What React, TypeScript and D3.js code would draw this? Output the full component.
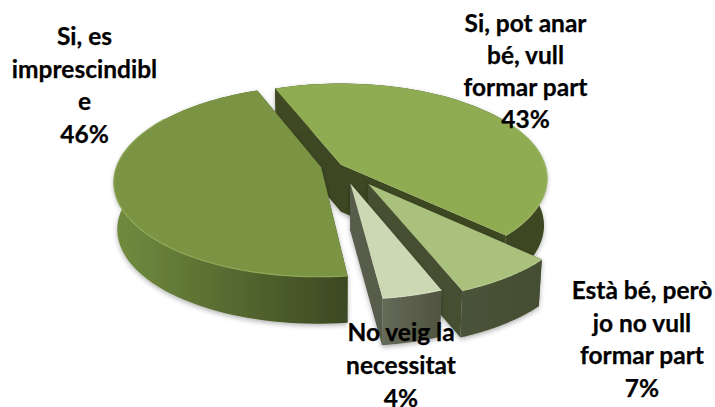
import React from "react";
import * as d3 from "d3";

const categories = ["Si, pot anar bé, vull formar part", "Està bé, però jo no vull formar part", "No veig la necessitat", "Si, es imprescindible"];
const values = [43, 7, 4, 46];
const explodes = [0.006, 0.24, 0.2, 0.095];
const labelLines = [
  ["Si, pot anar", "bé, vull", "formar part", "43%"],
  ["Està bé, però", "jo no vull", "formar part", "7%"],
  ["No veig la", "necessitat", "4%"],
  ["Si, es", "imprescindibl", "e", "46%"],
];
const labelX = [525.5, 642, 401, 84.5];
const labelY = [32, 299, 341, 45];
const labelStep = [32, 32.7, 33, 32.7];
const topColors = ["#8fac53", "#a9c17c", "#cbd8b3", "#7b9444"];
const wallFrom = ["#3f4a22", "#49523a", "#646a58", "#718c3f"];
const wallTo = ["#3c4620", "#454e30", "#50533f", "#3c4822"];
const innerColors = ["#3d4721", "#474f32", "#585c4c", "#3f4a24"];
const rimColors = ["#9ab565", "#b4c98c", "#d6e0c2", "#8ea857"];

const W = 715, H = 407;
const X0 = 340, Y0 = 165, B = 204, A = 93, K = 0.145, DEPTH = 47;
const START = (-21.5 * Math.PI) / 180;

type P = [number, number];
const project = (u: number, v: number, z = 0): P => {
  const d = 1 - K * v;
  const shrink = z ? 0.985 : 1;
  return [X0 + (B * u * shrink) / d, Y0 + (A * v) / d + z];
};

const pieGen = d3.pie<number>().sort(null).startAngle(START).endAngle(START + 2 * Math.PI);
const arcs = pieGen(values);
const line = d3.line<P>();

const slices = arcs.map((a, i) => {
  const mid = (a.startAngle + a.endAngle) / 2;
  const ou = explodes[i] * Math.sin(mid), ov = -explodes[i] * Math.cos(mid);
  const thetas = d3.range(0, 81).map((t) => a.startAngle + ((a.endAngle - a.startAngle) * t) / 80);
  const at = (th: number, z = 0) => project(ou + Math.sin(th), ov - Math.cos(th), z);
  const apex = project(ou, ov), apexB = project(ou, ov, DEPTH);
  const rim = thetas.map((t) => at(t));
  const rimB = thetas.map((t) => at(t, DEPTH));
  const topPath = line([apex, ...rim]) + "Z";
  const outerPath = line([...rim, ...rimB.slice().reverse()]) + "Z";
  const inner1 = line([apex, rim[0], rimB[0], apexB]) + "Z";
  const inner2 = line([apex, rim[80], rimB[80], apexB]) + "Z";
  const front = rim.filter((p, j) => {
    const c = -Math.cos(thetas[j]);
    return c > -0.55;
  });
  const xs = rim.map((p) => p[0]);
  return { i, topPath, outerPath, inner1, inner2, rimPath: line(front) || "", x0: d3.min(xs)!, x1: d3.max(xs)! };
});

const paintOrder = [0, 3, 1, 2];

export default function App() {
  return (
    <svg width={W} height={H} viewBox={`0 0 ${W} ${H}`} style={{ position: "absolute", left: 0, top: 0, background: "#fff" }}>
      <defs>
        <filter id="sh" x="-20%" y="-20%" width="140%" height="140%">
          <feDropShadow dx="0" dy="2" stdDeviation="2.5" floodColor="#000" floodOpacity="0.3" />
        </filter>
        <filter id="soft" x="-5%" y="-5%" width="110%" height="110%">
          <feGaussianBlur stdDeviation="0.5" />
        </filter>
        {slices.map((s) => (
          <linearGradient key={s.i} id={`wall${s.i}`} gradientUnits="userSpaceOnUse" x1={s.x0} x2={s.x1} y1={0} y2={0}>
            <stop offset="0" stopColor={wallFrom[s.i]} />
            <stop offset="1" stopColor={wallTo[s.i]} />
          </linearGradient>
        ))}
      </defs>
      {paintOrder.map((k) => {
        const s = slices[k];
        return (
          <g key={categories[k]}>
            <g filter="url(#sh)">
              <path d={s.inner1} fill={innerColors[k]} />
              <path d={s.inner2} fill={innerColors[k]} />
              <path d={s.outerPath} fill={`url(#wall${k})`} />
            </g>
            <path d={s.topPath} fill={topColors[k]} />
            <path d={s.rimPath} fill="none" stroke={rimColors[k]} strokeWidth={1.2} filter="url(#soft)" />
          </g>
        );
      })}
      <g fontFamily="Lato, sans-serif" fontWeight={700} fontSize={24.5} textAnchor="middle" fill="#000" stroke="#000" strokeWidth={0.25}>
        {labelLines.map((ls, i) =>
          ls.map((t, j) => (
            <text key={i + "-" + j} x={labelX[i]} y={labelY[i] + j * labelStep[i]}>
              {t}
            </text>
          ))
        )}
      </g>
    </svg>
  );
}
